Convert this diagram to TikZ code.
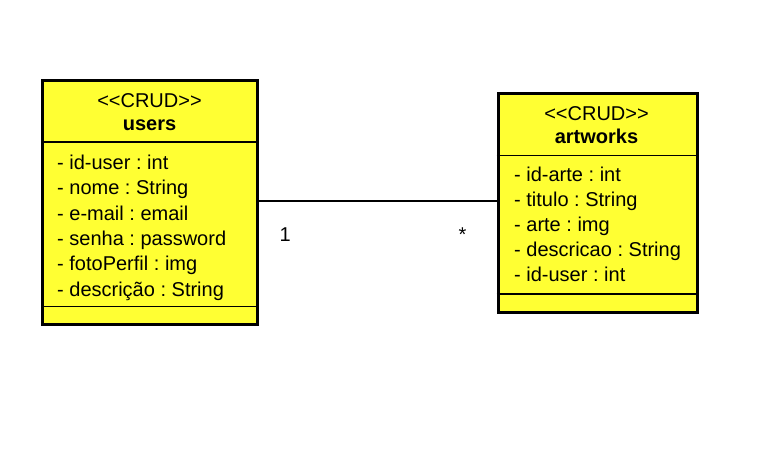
\documentclass[tikz,border=0pt]{standalone}
\usepackage{fontspec}
\setmainfont{Liberation Sans}
\frenchspacing
\definecolor{umlyellow}{RGB}{255,255,51}
\begin{document}
\begin{tikzpicture}[x=1pt,y=-1pt,
  classbox/.style={draw=black,line width=3pt,fill=umlyellow,rectangle,inner sep=0pt},
  sep/.style={draw=black,line width=1.5pt},
  conn/.style={draw=black,line width=1.5pt},
  txt/.style={anchor=base west,inner sep=0pt,font=\fontsize{20}{23}\selectfont\frenchspacing},
  ttl/.style={anchor=base,inner sep=0pt,font=\fontsize{20}{23}\selectfont},
  btl/.style={anchor=base,inner sep=0pt,font=\fontsize{20}{23}\selectfont\bfseries}]
\useasboundingbox (0,0) rectangle (766,453);
% users
\node[classbox,minimum width=214.8pt,minimum height=243.2pt] (users) at (149.9,202.4) {};
\draw[sep] (users.west |- 0,142) -- (users.east |- 0,142);
\draw[sep] (users.west |- 0,306.3) -- (users.east |- 0,306.3);
\node[ttl] (ust) at (149.5,107.8) {\textless{}\textless{}CRUD\textgreater{}\textgreater{}};
\node[btl] (usn) at (149.5,130.6) {users};
\node[txt] (u1) at (57,169.5) {- id-user : int};
\node[txt] (u2) at (57,194.8) {- nome : String};
\node[txt] (u3) at (57,220.1) {- e-mail : email};
\node[txt] (u4) at (57,245.4) {- senha : password};
\node[txt] (u5) at (57,270.7) {- fotoPerfil : img};
\node[txt] (u6) at (57,296.0) {- descrição : String};
% artworks
\node[classbox,minimum width=199.1pt,minimum height=219.5pt] (art) at (597.75,202.95) {};
\draw[sep] (art.west |- 0,155.3) -- (art.east |- 0,155.3);
\draw[sep] (art.west |- 0,294) -- (art.east |- 0,294);
\node[ttl] (ast) at (596.5,120.2) {\textless{}\textless{}CRUD\textgreater{}\textgreater{}};
\node[btl] (asn) at (596.5,143.3) {artworks};
\node[txt] (a1) at (514,181.8) {- id-arte : int};
\node[txt] (a2) at (514,206.8) {- titulo : String};
\node[txt] (a3) at (514,231.8) {- arte : img};
\node[txt] (a4) at (514,256.8) {- descricao : String};
\node[txt] (a5) at (514,281.8) {- id-user : int};
% association
\draw[conn] (users.east |- 0,201.2) -- (art.west |- 0,201.2);
\node[txt] (m1) at (279.5,241.5) {1};
\node[txt] (m2) at (458.5,241.5) {*};
\end{tikzpicture}
\end{document}
